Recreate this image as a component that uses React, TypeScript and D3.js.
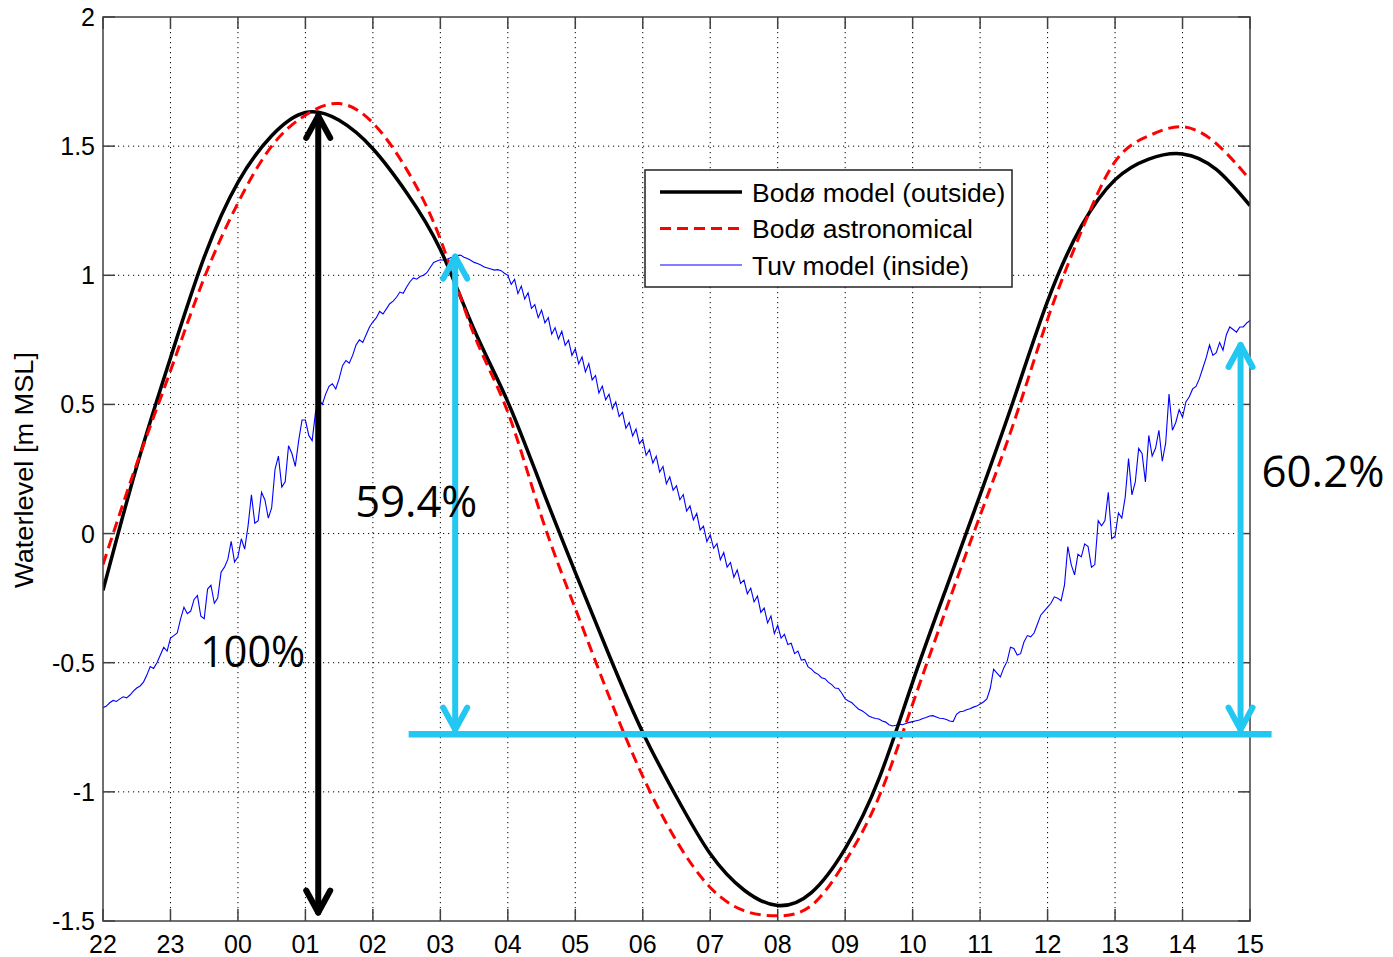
import { useEffect, useRef } from 'react'
import * as d3 from 'd3'

// hours since 22:00, tick labels along the time axis
const hourLabels = ['22', '23', '00', '01', '02', '03', '04', '05', '06', '07', '08', '09', '10', '11', '12', '13', '14', '15']
const yTicks = [-1.5, -1, -0.5, 0, 0.5, 1, 1.5, 2]

// Bodø model (outside), half-hour samples from 22:00
const bodoModel = [
  -0.22, 0.26, 0.68, 1.07, 1.36, 1.54, 1.63, 1.6, 1.49, 1.32,
  1.1, 0.79, 0.51, 0.18, -0.15, -0.47, -0.77, -1.02, -1.24, -1.38,
  -1.44, -1.39, -1.22, -0.95, -0.575, -0.21, 0.15, 0.52, 0.9, 1.19,
  1.37, 1.45, 1.47, 1.41, 1.27,
]

// Bodø astronomical, half-hour samples from 22:00
const bodoAstro = [
  -0.12, 0.27, 0.63, 0.99, 1.28, 1.5, 1.62, 1.665, 1.59, 1.41,
  1.14, 0.77, 0.47, 0.065, -0.29, -0.63, -0.94, -1.19, -1.37, -1.46,
  -1.48, -1.44, -1.27, -1.02, -0.66, -0.29, 0.07, 0.43, 0.83, 1.17,
  1.44, 1.54, 1.575, 1.51, 1.37,
]

// Tuv model (inside), 3-minute samples from 22:00 (one row per hour)
const tuvModel = [
  -0.674, -0.668, -0.655, -0.646, -0.65, -0.64, -0.632, -0.636, -0.625, -0.61,
  -0.598, -0.59, -0.575, -0.548, -0.515, -0.522, -0.5, -0.47, -0.44, -0.455,
  -0.405, -0.395, -0.385, -0.33, -0.285, -0.31, -0.3, -0.255, -0.24, -0.32,
  -0.33, -0.215, -0.2, -0.27, -0.25, -0.15, -0.13, -0.1, -0.03, -0.11,
  -0.09, -0.02, -0.06, 0.03, 0.15, 0.04, 0.05, 0.16, 0.13, 0.06,
  0.1, 0.25, 0.3, 0.18, 0.2, 0.34, 0.31, 0.26, 0.36, 0.44,
  0.44, 0.38, 0.36, 0.47, 0.52, 0.5, 0.54, 0.57, 0.58, 0.56,
  0.6, 0.65, 0.67, 0.66, 0.69, 0.73, 0.75, 0.74, 0.77, 0.8,
  0.82, 0.835, 0.86, 0.85, 0.87, 0.89, 0.9, 0.915, 0.935, 0.93,
  0.955, 0.975, 0.99, 0.985, 0.995, 1.0, 1.01, 1.03, 1.05, 1.055,
  1.06, 1.058, 1.062, 1.068, 1.072, 1.076, 1.078, 1.07, 1.065, 1.058,
  1.05, 1.046, 1.04, 1.032, 1.028, 1.024, 1.02, 1.022, 1.018, 1.008,
  1.0, 0.965, 0.984, 0.929, 0.958, 0.908, 0.932, 0.872, 0.886, 0.836,
  0.865, 0.816, 0.836, 0.772, 0.797, 0.753, 0.783, 0.729, 0.749, 0.69,
  0.715, 0.657, 0.684, 0.626, 0.658, 0.595, 0.612, 0.544, 0.571, 0.518,
  0.54, 0.483, 0.51, 0.453, 0.47, 0.408, 0.43, 0.378, 0.405, 0.348,
  0.365, 0.303, 0.325, 0.273, 0.3, 0.238, 0.26, 0.193, 0.22, 0.168,
  0.185, 0.131, 0.151, 0.087, 0.107, 0.053, 0.078, 0.014, 0.029, -0.031,
  -0.005, -0.057, -0.039, -0.101, -0.073, -0.13, -0.112, -0.169, -0.141, -0.193,
  -0.18, -0.233, -0.211, -0.264, -0.242, -0.305, -0.288, -0.346, -0.319, -0.387,
  -0.355, -0.405, -0.39, -0.43, -0.425, -0.465, -0.455, -0.49, -0.487, -0.516,
  -0.525, -0.538, -0.545, -0.558, -0.562, -0.575, -0.585, -0.598, -0.6, -0.618,
  -0.64, -0.648, -0.655, -0.668, -0.68, -0.686, -0.695, -0.706, -0.712, -0.716,
  -0.718, -0.726, -0.73, -0.74, -0.745, -0.742, -0.738, -0.74, -0.735, -0.731,
  -0.728, -0.725, -0.722, -0.716, -0.712, -0.706, -0.705, -0.71, -0.715, -0.716,
  -0.72, -0.726, -0.728, -0.7, -0.69, -0.688, -0.682, -0.678, -0.672, -0.668,
  -0.66, -0.652, -0.64, -0.6, -0.525, -0.54, -0.555, -0.52, -0.495, -0.44,
  -0.445, -0.47, -0.465, -0.42, -0.395, -0.4, -0.385, -0.35, -0.315, -0.3,
  -0.285, -0.27, -0.245, -0.25, -0.26, -0.2, -0.05, -0.12, -0.16, -0.08,
  -0.09, -0.04, -0.05, -0.13, -0.12, 0.05, 0.03, 0.05, 0.16, -0.02,
  -0.01, 0.08, 0.06, 0.14, 0.29, 0.15, 0.2, 0.33, 0.31, 0.2,
  0.38, 0.3, 0.33, 0.4, 0.28, 0.35, 0.54, 0.4, 0.43, 0.48,
  0.45, 0.51, 0.53, 0.56, 0.57, 0.6, 0.64, 0.68, 0.73, 0.69,
  0.7, 0.74, 0.71, 0.77, 0.8, 0.79, 0.78, 0.8, 0.8, 0.815,
  0.825,
]

const legendItems = ['Bodø model (outside)', 'Bodø astronomical', 'Tuv model (inside)']

type Pt = { h: number; v: number }

export default function App() {
  const svgRef = useRef<SVGSVGElement>(null)

  useEffect(() => {
    if (!svgRef.current) return
    const svg = d3.select(svgRef.current)
    svg.selectAll('*').remove()

    const width = 1393
    const height = 957
    const left = 103, right = 1250, top = 17, bottom = 921
    const font = '"Liberation Sans", Arial, sans-serif'

    svg.attr('width', width).attr('height', height)
    svg.append('rect').attr('width', width).attr('height', height).attr('fill', '#fff')

    const x = d3.scaleLinear().domain([0, 17]).range([left, right])
    const y = d3.scaleLinear().domain([-1.5, 2]).range([bottom, top])

    // Dotted grid
    const grid = svg.append('g').attr('stroke', '#000').attr('stroke-width', 1).attr('stroke-dasharray', '1.2,3.8')
    d3.range(1, 17).forEach(h => {
      grid.append('line').attr('x1', x(h)).attr('x2', x(h)).attr('y1', top).attr('y2', bottom)
    })
    yTicks.slice(1, -1).forEach(v => {
      grid.append('line').attr('x1', left).attr('x2', right).attr('y1', y(v)).attr('y2', y(v))
    })

    // Clip for the series
    svg.append('defs').append('clipPath').attr('id', 'plot-clip')
      .append('rect').attr('x', left).attr('y', top).attr('width', right - left).attr('height', bottom - top)

    const plot = svg.append('g').attr('clip-path', 'url(#plot-clip)')

    const smooth = d3.line<Pt>().x(d => x(d.h)).y(d => y(d.v)).curve(d3.curveNatural)
    const straight = d3.line<Pt>().x(d => x(d.h)).y(d => y(d.v))

    const tuvPts = tuvModel.map((v, i) => ({ h: i * 0.05, v }))
    const modelPts = bodoModel.map((v, i) => ({ h: i * 0.5, v }))
    const astroPts = bodoAstro.map((v, i) => ({ h: i * 0.5, v }))

    plot.append('path').datum(tuvPts).attr('d', straight)
      .attr('fill', 'none').attr('stroke', '#0000ff').attr('stroke-width', 1.1)
    plot.append('path').datum(modelPts).attr('d', smooth)
      .attr('fill', 'none').attr('stroke', '#000').attr('stroke-width', 3.5)
    plot.append('path').datum(astroPts).attr('d', smooth)
      .attr('fill', 'none').attr('stroke', '#ff0000').attr('stroke-width', 3)
      .attr('stroke-dasharray', '11,6')

    // Axis box and inward ticks on all sides
    const axes = svg.append('g').attr('stroke', '#404040').attr('stroke-width', 1.5)
    axes.append('rect').attr('x', left).attr('y', top).attr('width', right - left).attr('height', bottom - top).attr('fill', 'none')
    const tl = 12
    d3.range(0, 18).forEach(h => {
      axes.append('line').attr('x1', x(h)).attr('x2', x(h)).attr('y1', bottom).attr('y2', bottom - tl)
      axes.append('line').attr('x1', x(h)).attr('x2', x(h)).attr('y1', top).attr('y2', top + tl)
    })
    yTicks.forEach(v => {
      axes.append('line').attr('x1', left).attr('x2', left + tl).attr('y1', y(v)).attr('y2', y(v))
      axes.append('line').attr('x1', right).attr('x2', right - tl).attr('y1', y(v)).attr('y2', y(v))
    })

    // Tick labels
    svg.append('g').selectAll('text').data(hourLabels).join('text')
      .attr('x', (_, i) => x(i)).attr('y', 953)
      .attr('text-anchor', 'middle').attr('font-family', font).attr('font-size', 25).attr('fill', '#000')
      .text(d => d)
    svg.append('g').selectAll('text').data(yTicks).join('text')
      .attr('x', 95).attr('y', d => y(d)).attr('dy', '0.36em')
      .attr('text-anchor', 'end').attr('font-family', font).attr('font-size', 25).attr('fill', '#000')
      .text(d => String(d))

    svg.append('text')
      .attr('transform', `translate(33,${470}) rotate(-90)`)
      .attr('text-anchor', 'middle').attr('font-family', font).attr('font-size', 25)
      .attr('textLength', 236).attr('lengthAdjust', 'spacingAndGlyphs')
      .text('Waterlevel [m MSL]')

    // Legend
    const lg = svg.append('g')
    lg.append('rect').attr('x', 645).attr('y', 170).attr('width', 367).attr('height', 117)
      .attr('fill', '#fff').attr('stroke', '#222').attr('stroke-width', 1.5)
    const styles = [
      { stroke: '#000', w: 3.5, dash: null },
      { stroke: '#ff0000', w: 3, dash: '11,6' },
      { stroke: '#0000ff', w: 1.1, dash: null },
    ]
    legendItems.forEach((label, i) => {
      const ly = 192 + i * 36.5
      lg.append('line').attr('x1', 660).attr('x2', 742).attr('y1', ly).attr('y2', ly)
        .attr('stroke', styles[i].stroke).attr('stroke-width', styles[i].w)
        .attr('stroke-dasharray', styles[i].dash)
      lg.append('text').attr('x', 752).attr('y', ly).attr('dy', '0.36em')
        .attr('font-family', font).attr('font-size', 26.5).text(label)
    })

    // Annotations: arrows and reference line
    const cyan = '#22c7f2'
    const arrow = (h: number, v0: number, v1: number, color: string, heads: [boolean, boolean]) => {
      const g = svg.append('g').attr('stroke', color).attr('stroke-width', 6)
        .attr('fill', 'none').attr('stroke-linecap', 'round').attr('stroke-linejoin', 'round')
      const ax = x(h), yTop = y(v0), yBot = y(v1)
      g.append('line').attr('x1', ax).attr('x2', ax).attr('y1', yTop + 2).attr('y2', yBot - 2)
      if (heads[0]) g.append('polyline').attr('points', `${ax - 12},${yTop + 24} ${ax},${yTop + 2} ${ax + 12},${yTop + 24}`)
      if (heads[1]) g.append('polyline').attr('points', `${ax - 12},${yBot - 24} ${ax},${yBot - 2} ${ax + 12},${yBot - 24}`)
    }
    const refLevel = -0.777
    svg.append('line').attr('x1', x(4.53)).attr('x2', x(17.32)).attr('y1', y(refLevel)).attr('y2', y(refLevel))
      .attr('stroke', cyan).attr('stroke-width', 6.5)
    arrow(3.19, 1.625, -1.475, '#000', [true, true])
    arrow(5.22, 1.08, refLevel + 0.01, cyan, [true, true])
    arrow(16.86, 0.738, refLevel + 0.01, cyan, [true, true])

    const pctFont = '"Open Sans", "Noto Sans", sans-serif'
    const labels = [
      { t: '100%', h: 1.44, v: -0.518, w: 105 },
      { t: '59.4%', h: 3.74, v: 0.066, w: 122 },
      { t: '60.2%', h: 17.17, v: 0.182, w: 123 },
    ]
    labels.forEach(l => {
      svg.append('text').attr('x', x(l.h)).attr('y', y(l.v))
        .attr('font-family', pctFont).attr('font-size', 44).attr('fill', '#000')
        .attr('textLength', l.w).attr('lengthAdjust', 'spacingAndGlyphs')
        .text(l.t)
    })
  }, [])

  return (
    <div style={{ position: 'absolute', left: 0, top: 0 }}>
      <svg ref={svgRef} />
    </div>
  )
}
